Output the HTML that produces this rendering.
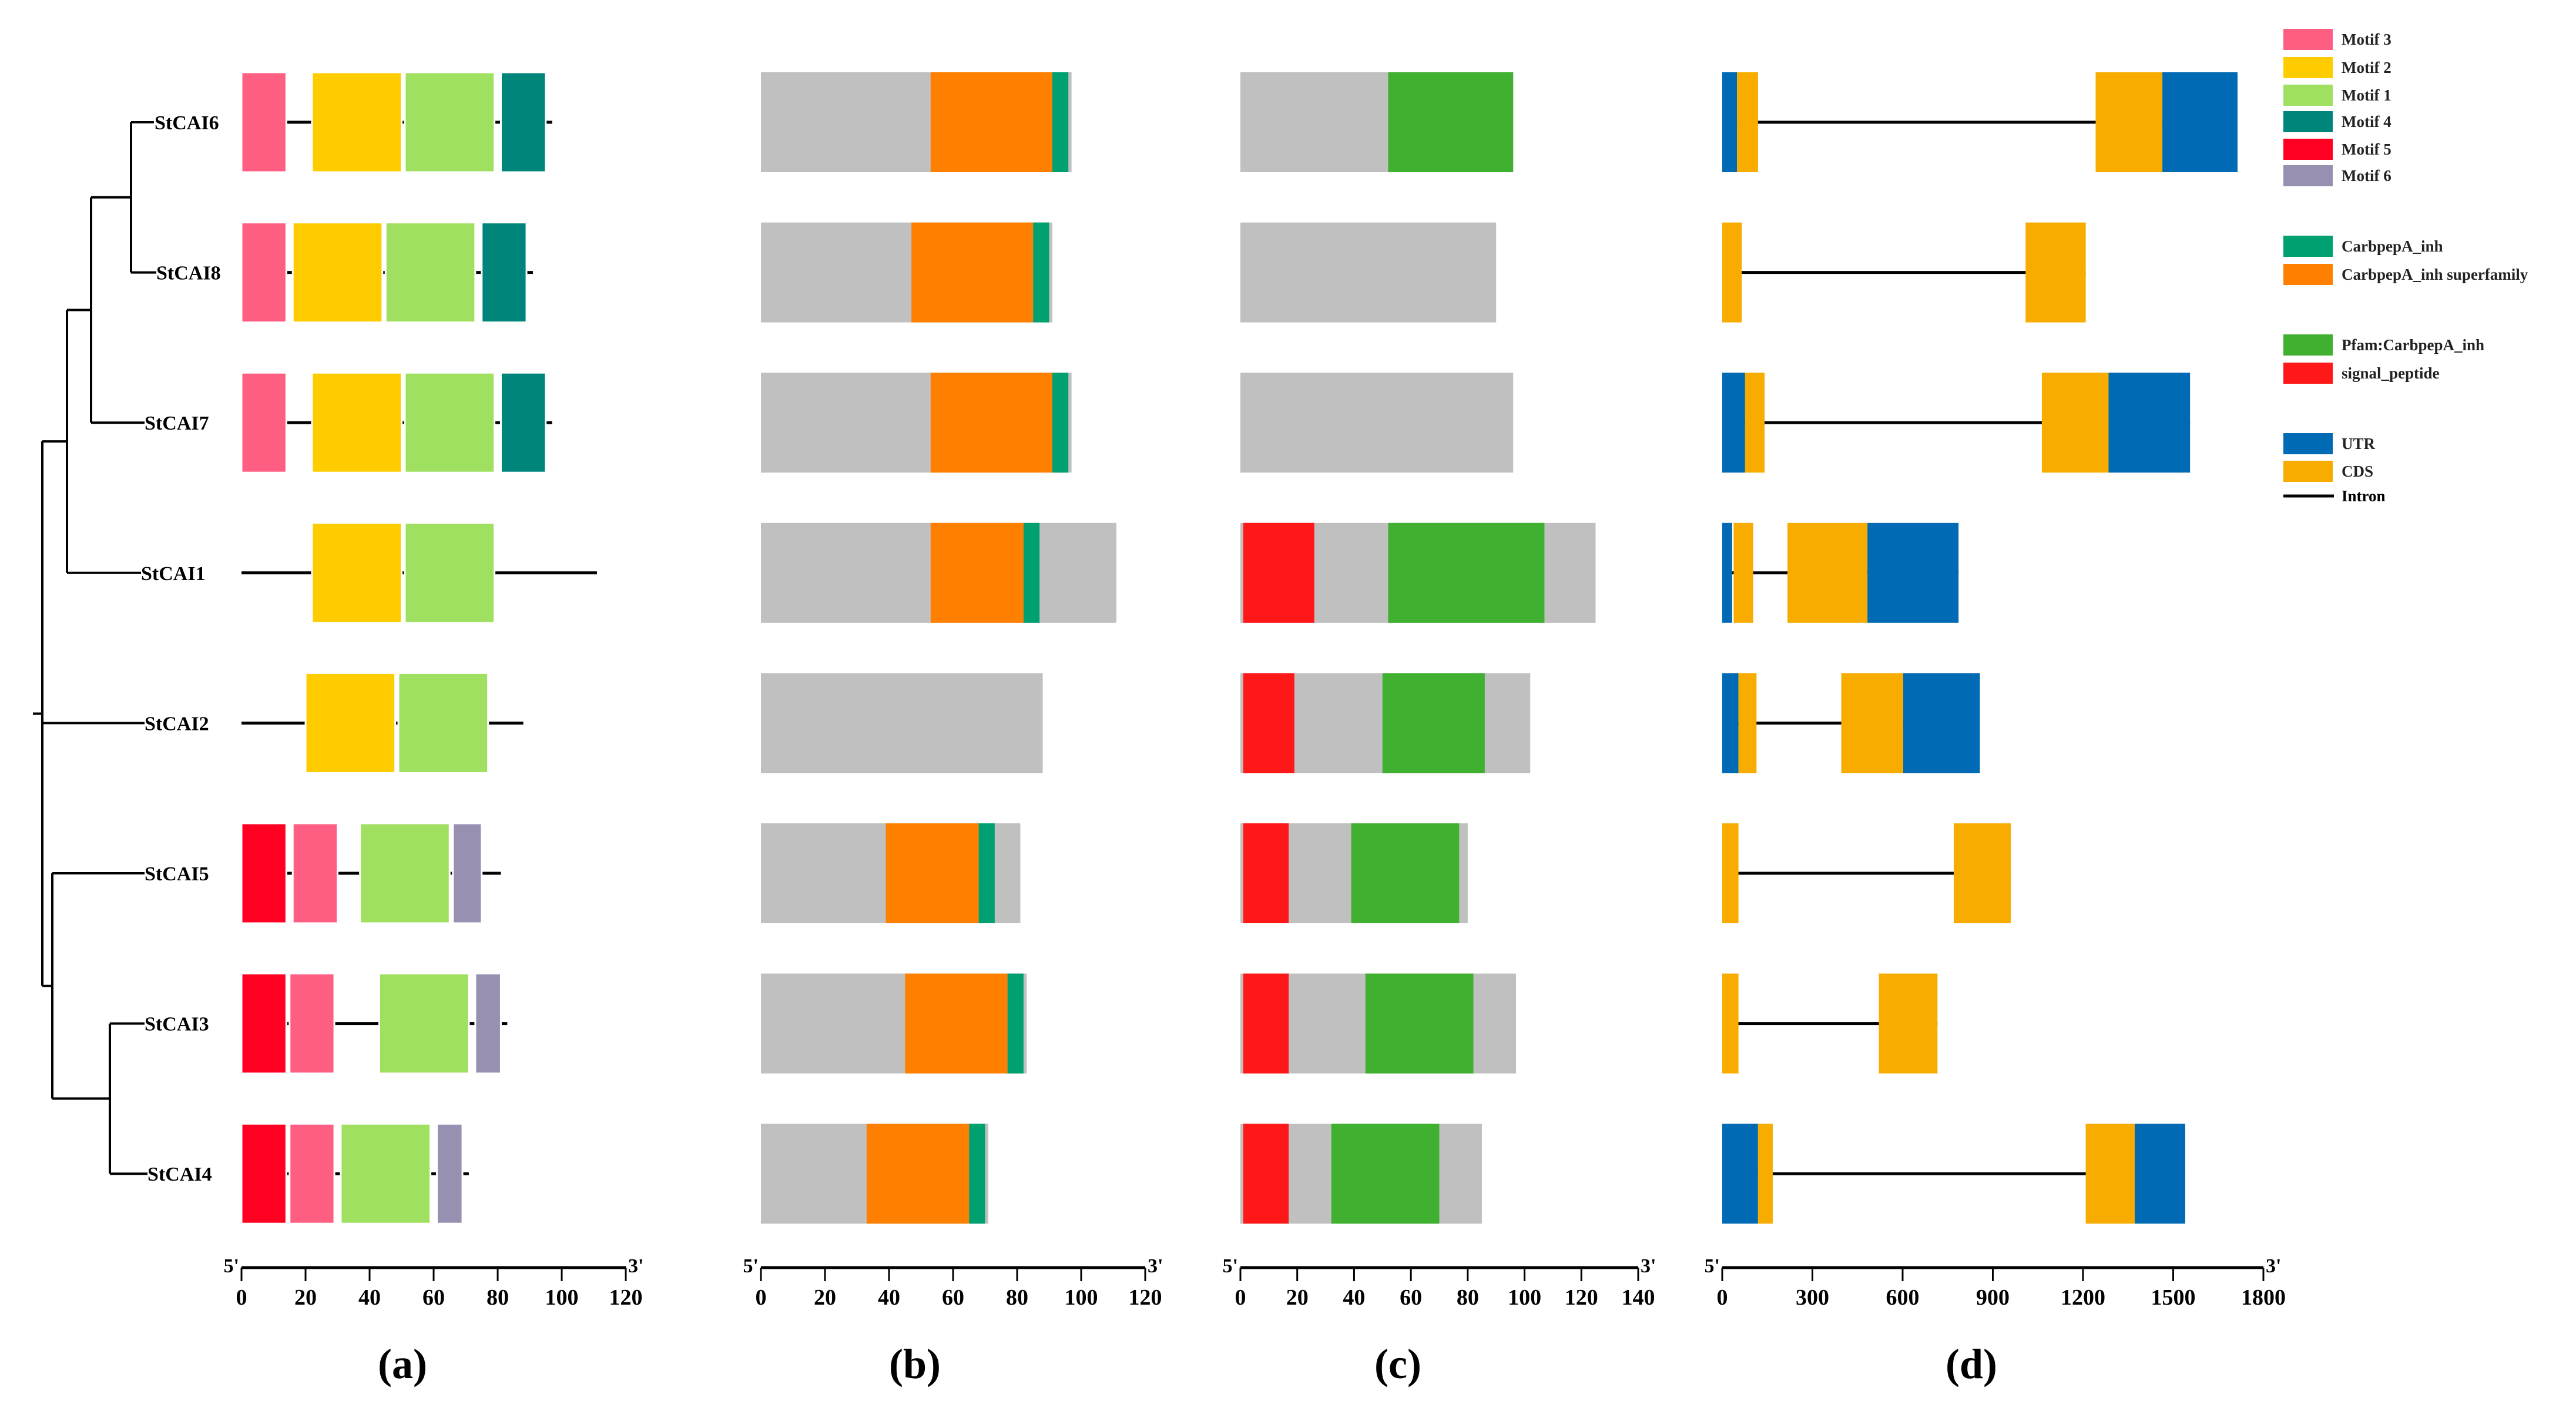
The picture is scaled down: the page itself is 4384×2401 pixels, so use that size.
<!DOCTYPE html>
<html><head><meta charset="utf-8"><style>
html,body{margin:0;padding:0;background:#fff}
svg{display:block;font-family:"Liberation Serif",serif;font-weight:bold}
</style></head><body>
<svg id="fig" width="4384" height="2401" viewBox="0 0 4384 2401" xmlns="http://www.w3.org/2000/svg">
<g id="tree" stroke="#000" stroke-width="4" fill="none"></g>
<g id="labels"></g>
<g id="panels"></g>
<g id="legend"></g>
</svg>
<script>
const genes = ["StCAI6","StCAI8","StCAI7","StCAI1","StCAI2","StCAI5","StCAI3","StCAI4"];
const labelX = [263,266,246,240,246,246,246,251];
// panel a: motifs [type,start,end]
const motifLen = [97,91,97,111,88,81,83,71];
const motifs = [
 [["m3",0,14],["m2",22,50],["m1",51,79],["m4",81,95]],
 [["m3",0,14],["m2",16,44],["m1",45,73],["m4",75,89]],
 [["m3",0,14],["m2",22,50],["m1",51,79],["m4",81,95]],
 [["m2",22,50],["m1",51,79]],
 [["m2",20,48],["m1",49,77]],
 [["m5",0,14],["m3",16,30],["m1",37,65],["m6",66,75]],
 [["m5",0,14],["m3",15,29],["m1",43,71],["m6",73,81]],
 [["m5",0,14],["m3",15,29],["m1",31,59],["m6",61,69]]
];
// panel b: domains
const protLenB = [97,91,97,111,88,81,83,71];
const domainsB = [
 [["sup",53,91],["inh",91,96]],
 [["sup",47,85],["inh",85,90]],
 [["sup",53,91],["inh",91,96]],
 [["sup",53,82],["inh",82,87]],
 [],
 [["sup",39,68],["inh",68,73]],
 [["sup",45,77],["inh",77,82]],
 [["sup",33,65],["inh",65,70]]
];
// panel c
const protLenC = [96,90,96,125,102,80,97,85];
const domainsC = [
 [["pfam",52,96]],
 [],
 [],
 [["sig",1,26],["pfam",52,107]],
 [["sig",1,19],["pfam",50,86]],
 [["sig",1,17],["pfam",39,77]],
 [["sig",1,17],["pfam",44,82]],
 [["sig",1,17],["pfam",32,70]]
];
// panel d: gene structure
const exons = [
 [["utr",0,49],["cds",49,119],["cds",1242,1464],["utr",1464,1714]],
 [["cds",0,65],["cds",1009,1209]],
 [["utr",0,76],["cds",76,141],["cds",1063,1285],["utr",1285,1556]],
 [["utr",0,33],["cds",38,103],["cds",217,483],["utr",483,786]],
 [["utr",0,54],["cds",54,114],["cds",396,602],["utr",602,857]],
 [["cds",0,54],["cds",770,960]],
 [["cds",0,54],["cds",521,716]],
 [["utr",0,119],["cds",119,168],["cds",1209,1372],["utr",1372,1540]]
];
const ticksA = [0,20,40,60,80,100,120];
const ticksB = [0,20,40,60,80,100,120];
const ticksC = [0,20,40,60,80,100,120,140];
const ticksD = [0,300,600,900,1200,1500,1800];
const panelLabels = ["(a)","(b)","(c)","(d)"];

const colors = {m3:"#FF5E83",m2:"#FFCC00",m1:"#A0E060",m4:"#00857A",m5:"#FF0022",m6:"#9890B0",
 inh:"#00A070",sup:"#FF8000",gray:"#C0C0C0",pfam:"#40B030",sig:"#FF1818",utr:"#006AB4",cds:"#F8AC00"};
const NS="http://www.w3.org/2000/svg";
function mk(tag,attrs,parent){const e=document.createElementNS(NS,tag);for(const k in attrs)e.setAttribute(k,attrs[k]);parent.appendChild(e);return e;}
const rowY = i => 208 + i*255.6;
const H = 85;
const axes = [
 {x0:411,x1:1065,max:120,ticks:ticksA,lab:685},
 {x0:1295,x1:1949,max:120,ticks:ticksB,lab:1557},
 {x0:2111,x1:2788,max:140,ticks:ticksC,lab:2379},
 {x0:2931,x1:3852,max:1800,ticks:ticksD,lab:3355}
];
const sx = (p,v)=>axes[p].x0+(axes[p].x1-axes[p].x0)*v/axes[p].max;
const panels=document.getElementById('panels');
const labelsG=document.getElementById('labels');

function box(p,g,type,s,e,y,name){
 const r=mk('rect',{x:sx(p,s),y:y-H,width:Math.max(1,sx(p,e)-sx(p,s)),height:2*H,fill:colors[type],stroke:p===0?"#fff":"none","stroke-width":3},g);
 
 
}

genes.forEach((gname,i)=>{
 const y=rowY(i);
 const t=mk('text',{x:labelX[i],y:y+12,"font-size":34,fill:"#000"},labelsG);
 t.textContent=gname;
 
 
 // a
 const ga=mk('g',{},panels);
 
 
 mk('line',{x1:sx(0,0),x2:sx(0,motifLen[i]),y1:y,y2:y,stroke:"#000","stroke-width":5},ga);
 motifs[i].forEach(m=>box(0,ga,m[0],m[1],m[2],y,'motif-'+m[0]));
 // b
 const gb=mk('g',{},panels);
 
 
 box(1,gb,"gray",0,protLenB[i],y,'protein-bar');
 domainsB[i].forEach(m=>box(1,gb,m[0],m[1],m[2],y,'domain-'+m[0]));
 // c
 const gc=mk('g',{},panels);
 
 
 box(2,gc,"gray",0,protLenC[i],y,'protein-bar');
 domainsC[i].forEach(m=>box(2,gc,m[0],m[1],m[2],y,'domain-'+m[0]));
 // d
 const gd=mk('g',{},panels);
 
 
 const ex=exons[i];
 mk('line',{x1:sx(3,ex[0][1]),x2:sx(3,ex[ex.length-1][2]),y1:y,y2:y,stroke:"#000","stroke-width":5},gd);
 ex.forEach(m=>box(3,gd,m[0],m[1],m[2],y,'exon-'+m[0]));
});

// axes
axes.forEach((a,p)=>{
 const g=mk('g',{},panels);
 
 
 mk('line',{x1:a.x0,x2:a.x1,y1:2157,y2:2157,stroke:"#000","stroke-width":5},g);
 a.ticks.forEach(v=>{
  mk('line',{x1:sx(p,v),x2:sx(p,v),y1:2157,y2:2180,stroke:"#000","stroke-width":3},g);
  const t=mk('text',{x:sx(p,v),y:2220,"font-size":38,"text-anchor":"middle"},g);
  t.textContent=v;
  
  
 });
 const t5=mk('text',{x:a.x0-4,y:2165,"font-size":34,"text-anchor":"end"},g);t5.textContent="5'";
 const t3=mk('text',{x:a.x1+4,y:2165,"font-size":34},g);t3.textContent="3'";
 const pl=mk('text',{x:a.lab,y:2345,"font-size":72,"text-anchor":"middle"},g);
 pl.textContent=panelLabels[p];
 
 
});

// tree
const tree=document.getElementById('tree');
const Y=rowY;
const n68=(Y(0)+Y(1))/2, n687=(n68+Y(2))/2, n6871=(n687+Y(3))/2;
const n34=(Y(6)+Y(7))/2, n534=(Y(5)+n34)/2, root=(n6871+n534)/2;
const segs=[
 [223,Y(0),262,Y(0)],[223,Y(1),266,Y(1)],[223,Y(0),223,Y(1)],
 [155,n68,223,n68],[155,n68,155,Y(2)],[155,Y(2),246,Y(2)],
 [114,n687,155,n687],[114,n687,114,Y(3)],[114,Y(3),240,Y(3)],
 [72,n6871,114,n6871],[72,n6871,72,n534],[72,Y(4),246,Y(4)],
 [72,n534,89,n534],[89,Y(5),89,n34],[89,Y(5),246,Y(5)],
 [89,n34,187,n34],[187,Y(6),187,Y(7)],[187,Y(6),246,Y(6)],[187,Y(7),251,Y(7)],
 [56,root,72,root]
];
segs.forEach(s=>{
 const l=mk('line',{x1:s[0],y1:s[1],x2:s[2],y2:s[3]},tree);
 
 
});

// legend
const legendItems=[["m3","Motif 3",67],["m2","Motif 2",115],["m1","Motif 1",162],["m4","Motif 4",207],["m5","Motif 5",254],["m6","Motif 6",299],
 ["inh","CarbpepA_inh",419],["sup","CarbpepA_inh superfamily",467],["pfam","Pfam:CarbpepA_inh",587],["sig","signal_peptide",635],
 ["utr","UTR",755],["cds","CDS",802],["intron","Intron",844]];
const leg=document.getElementById('legend');
legendItems.forEach(it=>{
 const g=mk('g',{},leg);
 
 
 if(it[0]==="intron") mk('line',{x1:3886,x2:3972,y1:it[2],y2:it[2],stroke:"#000","stroke-width":5},g);
 else mk('rect',{x:3886,y:it[2]-18,width:84,height:36,fill:colors[it[0]]},g);
 const t=mk('text',{x:3985,y:it[2]+9,"font-size":27,fill:it[0]==="intron"?"#000":"#222"},g);
 t.textContent=it[1];
});
</script>
</body></html>
